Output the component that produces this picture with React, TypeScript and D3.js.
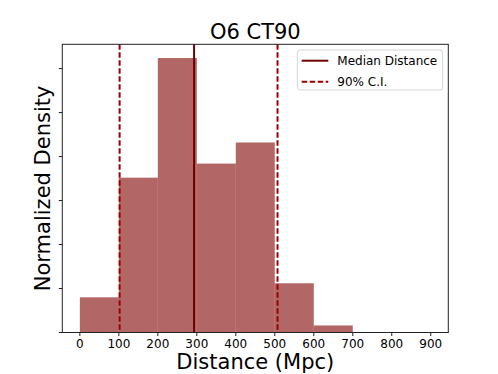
import React from 'react';
import * as d3 from 'd3';

// histogram bins (Mpc) and normalized density per bin
const binEdges = [0, 100, 200, 300, 400, 500, 600, 700, 800, 900];
const densities = [0.0004, 0.00176, 0.00312, 0.00192, 0.00216, 0.00056, 0.00008, 0, 0];
const xTicks = [0, 100, 200, 300, 400, 500, 600, 700, 800, 900];
const yTicks = [0, 0.0005, 0.001, 0.0015, 0.002, 0.0025, 0.003];
const medianDistance = 293;
const ciBounds = [102, 507];
const legendLabels = ['Median Distance', '90% C.I.'];

const W = 498;
const H = 374;
const left = 62.3, right = 448.3, top = 44.3, bottom = 332.5;
const font = "'DejaVu Sans', sans-serif";

export default function App() {
    const x = d3.scaleLinear().domain([-45, 945]).range([left, right]);
    const yMax = (d3.max(densities) as number) * 1.05;
    const y = d3.scaleLinear().domain([0, yMax]).range([bottom, top]);

    const bars = densities.map((d, i) => ({ x0: binEdges[i], x1: binEdges[i + 1], d }));

    const lx = 297.3, ly = 50, lw = 145.4, lh = 40;

    return (
        <svg width={W} height={H} style={{ position: 'absolute', left: 0, top: 0 }} fontFamily={font}>
            <rect width={W} height={H} fill="#fff" />
            {/* bars */}
            <g>
                {bars.filter(b => b.d > 0).map((b, i) => (
                    <rect key={i}
                        x={x(b.x0)} y={y(b.d)}
                        width={x(b.x1) - x(b.x0)} height={y(0) - y(b.d)}
                        fill="#800000" fillOpacity={0.6} />
                ))}
            </g>
            {/* median and CI lines */}
            <line x1={x(medianDistance)} x2={x(medianDistance)} y1={top} y2={bottom}
                stroke="#6e0000" strokeWidth={2} />
            {ciBounds.map((c, i) => (
                <line key={i} x1={x(c)} x2={x(c)} y1={top} y2={bottom}
                    stroke="#9b0000" strokeWidth={2} strokeDasharray="5.5,2.5" />
            ))}
            {/* frame */}
            <rect x={left} y={top} width={right - left} height={bottom - top}
                fill="none" stroke="#222" strokeWidth={1} />
            {/* x axis */}
            <g>
                {xTicks.map(t => (
                    <g key={t} transform={`translate(${x(t)},${bottom})`}>
                        <line y2={3.5} stroke="#222" />
                        <text y={15.3} textAnchor="middle" fontSize={12} fill="#000">{t}</text>
                    </g>
                ))}
            </g>
            {/* y axis ticks, labels hidden */}
            <g>
                {yTicks.map(t => (
                    <line key={t} x1={left - 3.5} x2={left} y1={y(t)} y2={y(t)} stroke="#222" />
                ))}
            </g>
            {/* labels */}
            <text x={(left + right) / 2} y={39.3} textAnchor="middle" fontSize={21} fill="#000">O6 CT90</text>
            <text x={(left + right) / 2} y={369.3} textAnchor="middle" fontSize={21} fill="#000">Distance (Mpc)</text>
            <text transform={`translate(49.5,${(top + bottom) / 2}) rotate(-90)`} textAnchor="middle"
                fontSize={21} fill="#000">Normalized Density</text>
            {/* legend */}
            <g>
                <rect x={lx} y={ly} width={lw} height={lh} rx={3} fill="#fff" fillOpacity={0.8}
                    stroke="#d6d6d6" strokeWidth={1} />
                <line x1={301.7} x2={328.3} y1={60.7} y2={60.7} stroke="#6e0000" strokeWidth={2} />
                <line x1={301.7} x2={328.3} y1={81.7} y2={81.7} stroke="#9b0000" strokeWidth={2}
                    strokeDasharray="5.5,2.5" />
                {legendLabels.map((l, i) => (
                    <text key={l} x={337.3} y={60.7 + i * 21 + 4.3} fontSize={12} fill="#000">{l}</text>
                ))}
            </g>
        </svg>
    );
}
